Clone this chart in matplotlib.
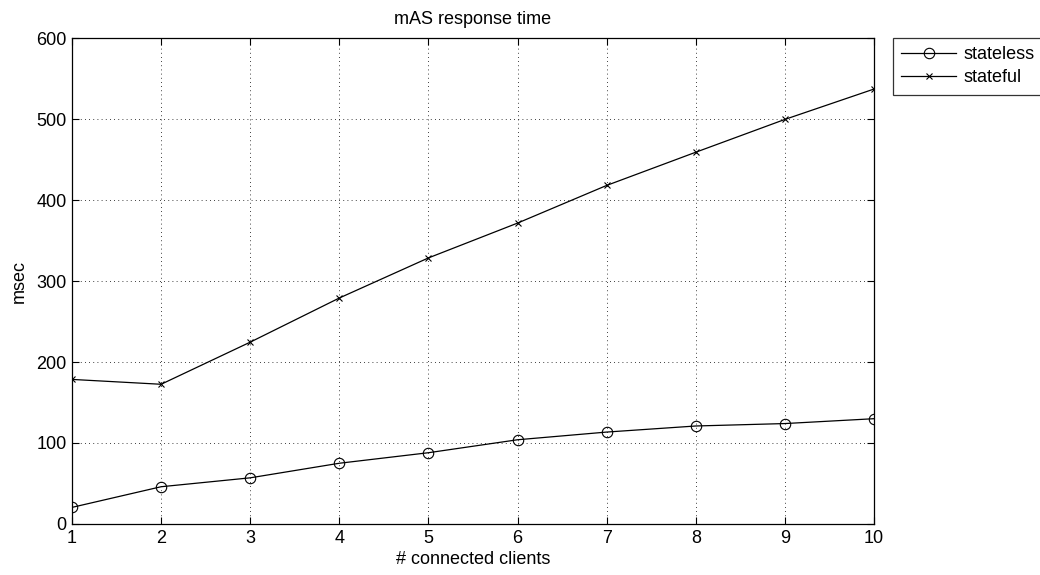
import matplotlib.pyplot as plt
import numpy as np
import matplotlib as mpl
mpl.rc('font', family='Liberation Sans', size=13)

# --- data
clients = [1, 2, 3, 4, 5, 6, 7, 8, 9, 10]
stateless = [20.5, 46, 57, 75, 88, 104, 113.5, 121, 124, 130]
stateful = [178.5, 172.5, 224.5, 279, 328.5, 371.5, 418, 459, 499.5, 537]

fig = plt.figure(figsize=(10.4, 5.75), dpi=100)
ax = fig.add_axes([0.0692, 0.0887, 0.7712, 0.8452])

ax.plot(clients, stateless, color='black', lw=0.9, marker='o', ms=7.5,
        mfc='none', mew=0.8, label='stateless')
ax.plot(clients, stateful, color='black', lw=0.9, marker='x', ms=5,
        mew=0.8, label='stateful')

ax.set_xlim([1, 10])
ax.set_ylim([0, 600])
ax.set_xticks(clients)
ax.set_yticks(np.arange(0, 601, 100))
ax.tick_params(direction='in', top=True, right=True, length=5, width=0.8,
               labelsize=13, pad=4)
ax.grid(True, linestyle=(0, (1, 4)), color='black', lw=0.6)
for s in ax.spines.values():
    s.set_linewidth(0.9)

ax.set_title('mAS response time', fontsize=13, pad=10)
ax.set_xlabel('# connected clients', fontsize=13, labelpad=3)
ax.set_ylabel('msec', fontsize=13, labelpad=6)

leg = ax.legend(loc='upper left', bbox_to_anchor=(1.0237, 1.0), borderaxespad=0,
                frameon=True, fancybox=False, edgecolor='black', fontsize=13,
                handlelength=3.05, handletextpad=0.4, labelspacing=0.35,
                borderpad=0.45)
leg.get_frame().set_linewidth(0.9)

plt.savefig('out.png', dpi=100)
